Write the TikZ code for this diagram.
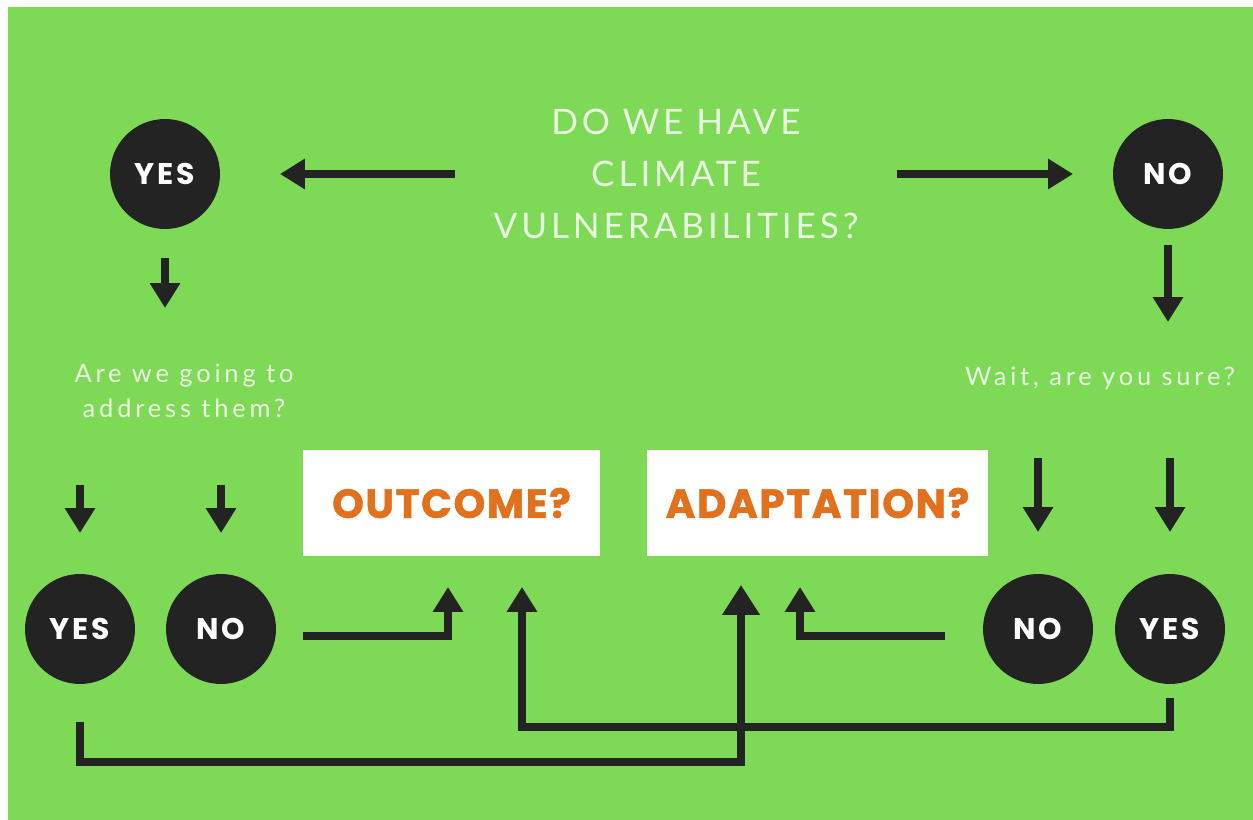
\documentclass[tikz,border=0pt]{standalone}
\usepackage{fontspec}
\usetikzlibrary{arrows.meta}

\definecolor{grass}{HTML}{7ED957}
\definecolor{ink}{HTML}{232323}
\definecolor{pale}{HTML}{EAF7E0}
\definecolor{rust}{HTML}{E2711D}

\newfontfamily\headfont{Lato}[LetterSpace=11]
\newfontfamily\askfont{Lato}[LetterSpace=15]
\newfontfamily\tagfont{Poppins}[LetterSpace=10]
\newfontfamily\boxfont{Poppins}[LetterSpace=4,BoldFeatures={FakeBold=1.2}]

\tikzset{
  % black answer discs
  answer/.style={circle,fill=ink,text=white,minimum size=2.2cm,
    inner sep=0pt,outer sep=0pt,
    font=\tagfont\bfseries\fontsize{17}{17}\selectfont},
  % white boxes with the two results
  result/.style={rectangle,fill=white,text=rust,minimum height=2.12cm,
    inner sep=0pt,outer sep=0pt,
    font=\boxfont\bfseries\fontsize{23}{23}\selectfont},
  % the small questions
  ask/.style={text=pale,align=center,inner sep=0pt,
    font=\askfont\fontsize{14.5}{20}\selectfont},
  % thick arrows
  flow/.style={draw=ink,line width=0.16cm,-{Triangle[width=0.58cm,length=0.5cm]}},
  bigflow/.style={flow,-{Triangle[width=0.72cm,length=0.6cm]}},
}

\begin{document}
\begin{tikzpicture}[x=0.02cm,y=-0.02cm]
\fill[white] (0,0) rectangle (1253,820);
\fill[grass] (8,7) rectangle (1253,820);

\node[text=pale,align=center,inner sep=0pt,
  font=\headfont\fontsize{20}{29.5}\selectfont] (title) at (676,174)
  {DO WE HAVE\\CLIMATE\\VULNERABILITIES?};

\node[answer] (yes1) at (165,174) {YES};
\node[answer] (no1) at (1168,174) {NO};
\node[ask] (q1) at (184,391) {Are we going to\\address them?};
\node[ask] (q2) at (1100,378) {Wait, are you sure?};
\node[answer] (yes2) at (80,629) {YES};
\node[answer] (no2) at (221,629) {NO};
\node[answer] (no3) at (1038,629) {NO};
\node[answer] (yes3) at (1170,629) {YES};
\node[result,minimum width=5.94cm] (out) at (451.5,503) {OUTCOME?};
\node[result,minimum width=6.82cm] (adapt) at (817.5,503) {ADAPTATION?};

\coordinate (lowA) at (0,762);
\coordinate (lowB) at (0,727);

% first answer
\draw[flow,shorten <=4.42cm,shorten >=1.2cm] (title.center) -- (yes1.east);
\draw[flow,shorten <=4.42cm,shorten >=0.8cm] (title.center) -- (no1.west);
\draw[flow,shorten <=0.58cm,shorten >=1.66cm] (yes1.south) -- (yes1.south |- q1.center);
\draw[flow,shorten <=0.32cm,shorten >=1.12cm] (no1.south) -- (no1.south |- q2.center);

% second answer
\draw[flow,shorten <=1.88cm,shorten >=0.82cm] (q1.center -| yes2.north) -- (yes2.north);
\draw[flow,shorten <=1.88cm,shorten >=0.82cm] (q1.center -| no2.north) -- (no2.north);
\draw[flow,shorten <=1.6cm,shorten >=0.84cm] (q2.center -| no3.north) -- (no3.north);
\draw[flow,shorten <=1.6cm,shorten >=0.84cm] (q2.center -| yes3.north) -- (yes3.north);

% into the boxes
\draw[flow,shorten >=0.62cm] ([xshift=0.54cm,yshift=-0.14cm]no2.east) -| ([xshift=-0.07cm]out.south);
\draw[bigflow,shorten <=0.76cm,shorten >=0.58cm] (yes2.south) -- (yes2.south |- lowA) -| ([xshift=-1.53cm]adapt.south);
\draw[flow,shorten <=0.28cm,shorten >=0.62cm] (yes3.south) -- (yes3.south |- lowB) -| ([xshift=1.41cm]out.south);
\draw[flow,shorten >=0.62cm] ([xshift=-0.76cm,yshift=-0.14cm]no3.west) -| ([xshift=-0.35cm]adapt.south);
\end{tikzpicture}
\end{document}
